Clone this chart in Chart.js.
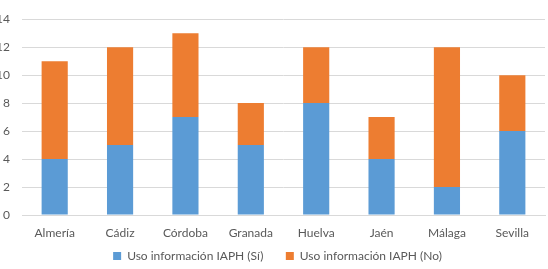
<!DOCTYPE html>
<html>
<head>
<meta charset="utf-8">
<script src="https://cdn.jsdelivr.net/npm/chart.js@4.4.0/dist/chart.umd.min.js"></script>
<style>
  html, body { margin: 0; padding: 0; background: #fff; }
  #wrap { width: 548px; height: 269px; position: relative; }
</style>
</head>
<body>
<div id="wrap"><canvas id="myChart"></canvas></div>
<script>
// provincias y respuestas
var provincias = ['Almería', 'Cádiz', 'Córdoba', 'Granada', 'Huelva', 'Jaén', 'Málaga', 'Sevilla'];
var usoSi = [4, 5, 7, 5, 8, 4, 2, 6];
var usoNo = [7, 7, 6, 3, 4, 3, 10, 4];
var yTicks = [0, 2, 4, 6, 8, 10, 12, 14];

Chart.defaults.font.family = 'Lato, "Open Sans", sans-serif';
Chart.defaults.font.size = 12;
Chart.defaults.color = '#595959';

// la leyenda del original está algo desplazada a la derecha
var legendShift = {
  id: 'legendShift',
  afterLayout: function (chart) {
    chart.legend.left += 5;
    chart.legend.right += 5;
  }
};

var ctx = document.getElementById('myChart').getContext('2d');
var myChart = new Chart(ctx, {
  type: 'bar',
  data: {
    labels: provincias,
    datasets: [{
      label: 'Uso información IAPH (Sí)',
      data: usoSi,
      backgroundColor: '#5B9BD5'
    }, {
      label: 'Uso información IAPH (No)',
      data: usoNo,
      backgroundColor: '#ED7D31'
    }]
  },
  plugins: [legendShift],
  options: {
    responsive: true,
    maintainAspectRatio: false,
    animation: false,
    layout: { padding: { top: 11, right: 3, bottom: 0, left: 0 } },
    datasets: { bar: { categoryPercentage: 1, barPercentage: 0.4 } },
    plugins: {
      tooltip: { enabled: false },
      legend: {
        position: 'bottom',
        maxHeight: 29,
        labels: {
          boxWidth: 8, boxHeight: 8, padding: 10, font: { size: 12 },
          // un poco más de separación entre las dos entradas
          generateLabels: function (chart) {
            var items = Chart.defaults.plugins.legend.labels.generateLabels(chart);
            items[0].text = items[0].text + '    ';
            return items;
          }
        }
      }
    },
    scales: {
      x: {
        stacked: true,
        grid: { display: false, drawTicks: false },
        border: { color: '#d9d9d9' },
        ticks: { padding: 11, maxRotation: 0 },
        afterFit: function (scale) { scale.height = 25; }
      },
      y: {
        stacked: true,
        min: 0,
        max: 14,
        afterBuildTicks: function (scale) {
          scale.ticks = yTicks.map(function (v) { return { value: v }; });
        },
        afterFit: function (scale) { scale.width = 22; },
        grid: { color: '#d9d9d9', drawTicks: false },
        border: { display: false },
        ticks: { padding: 12, align: 'center' }
      }
    }
  }
});
</script>
</body>
</html>
